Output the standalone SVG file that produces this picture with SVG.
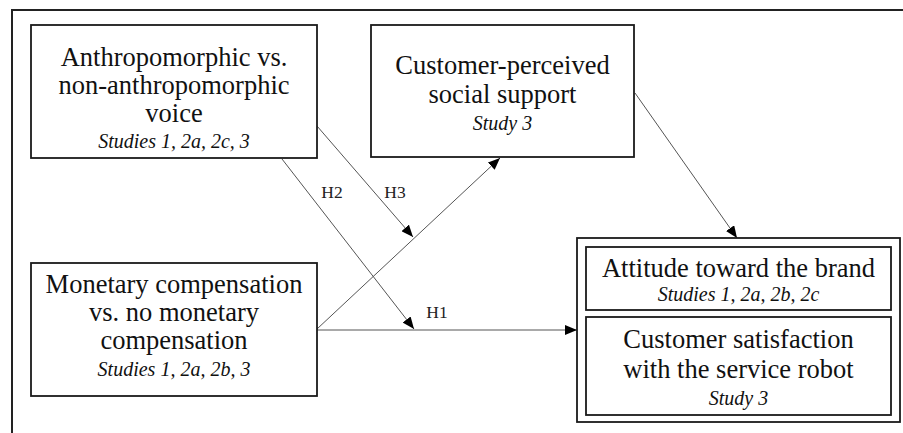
<svg xmlns="http://www.w3.org/2000/svg" width="903" height="433" viewBox="0 0 903 433">
<style>
.box{fill:#fff;stroke:#1a1a1a;stroke-width:1.8}
.t{font-family:"Liberation Serif","Times New Roman",serif;font-size:26.5px;fill:#111;text-anchor:middle}
.i{font-family:"Liberation Serif","Times New Roman",serif;font-size:20px;font-style:italic;fill:#111;text-anchor:middle}
.h{font-family:"Liberation Serif","Times New Roman",serif;font-size:17.5px;fill:#222;text-anchor:middle}
.c{stroke:#555;stroke-width:1;fill:none;marker-end:url(#ah)}
</style>
<defs>
<marker id="ah" markerUnits="userSpaceOnUse" markerWidth="12" markerHeight="10" refX="12" refY="5" orient="auto">
<path d="M0,0 L12,5 L0,10 z" fill="#000"/>
</marker>
</defs>
<rect width="903" height="433" fill="#fff"/>
<path d="M12,433 V10 H903" fill="none" stroke="#222" stroke-width="2"/>
<g id="connectors">
<line class="c" x1="317" y1="330" x2="577" y2="330"/>
<line class="c" x1="317" y1="329" x2="500" y2="158"/>
<line class="c" x1="317" y1="126" x2="413" y2="237"/>
<line class="c" x1="282" y1="159" x2="414" y2="329"/>
<line class="c" x1="635" y1="93" x2="737" y2="238"/>
<text class="h" x="332" y="198">H2</text>
<text class="h" x="395" y="198">H3</text>
<text class="h" x="437" y="318">H1</text>
</g>
<g id="anthro">
<rect class="box" x="31" y="25" width="286" height="133"/>
<text class="t" x="174" y="66">Anthropomorphic vs.</text>
<text class="t" x="174" y="94">non-anthropomorphic</text>
<text class="t" x="174" y="122">voice</text>
<text class="i" x="174" y="148">Studies 1, 2a, 2c, 3</text>
</g>
<g id="support">
<rect class="box" x="371" y="25" width="263" height="132"/>
<text class="t" x="502.5" y="74">Customer-perceived</text>
<text class="t" x="502.5" y="103">social support</text>
<text class="i" x="502.5" y="130">Study 3</text>
</g>
<g id="monetary">
<rect class="box" x="31" y="263" width="286" height="133"/>
<text class="t" x="174" y="293">Monetary compensation</text>
<text class="t" x="174" y="321">vs. no monetary</text>
<text class="t" x="174" y="349">compensation</text>
<text class="i" x="174" y="376">Studies 1, 2a, 2b, 3</text>
</g>
<g id="outcomes">
<rect class="box" x="577" y="238" width="323" height="184"/>
<rect class="box" x="586" y="247" width="305" height="63"/>
<text class="t" x="738.5" y="277">Attitude toward the brand</text>
<text class="i" x="738.5" y="301">Studies 1, 2a, 2b, 2c</text>
<rect class="box" x="586" y="317" width="305" height="98"/>
<text class="t" x="738.5" y="348">Customer satisfaction</text>
<text class="t" x="738.5" y="378">with the service robot</text>
<text class="i" x="738.5" y="405">Study 3</text>
</g>
</svg>
